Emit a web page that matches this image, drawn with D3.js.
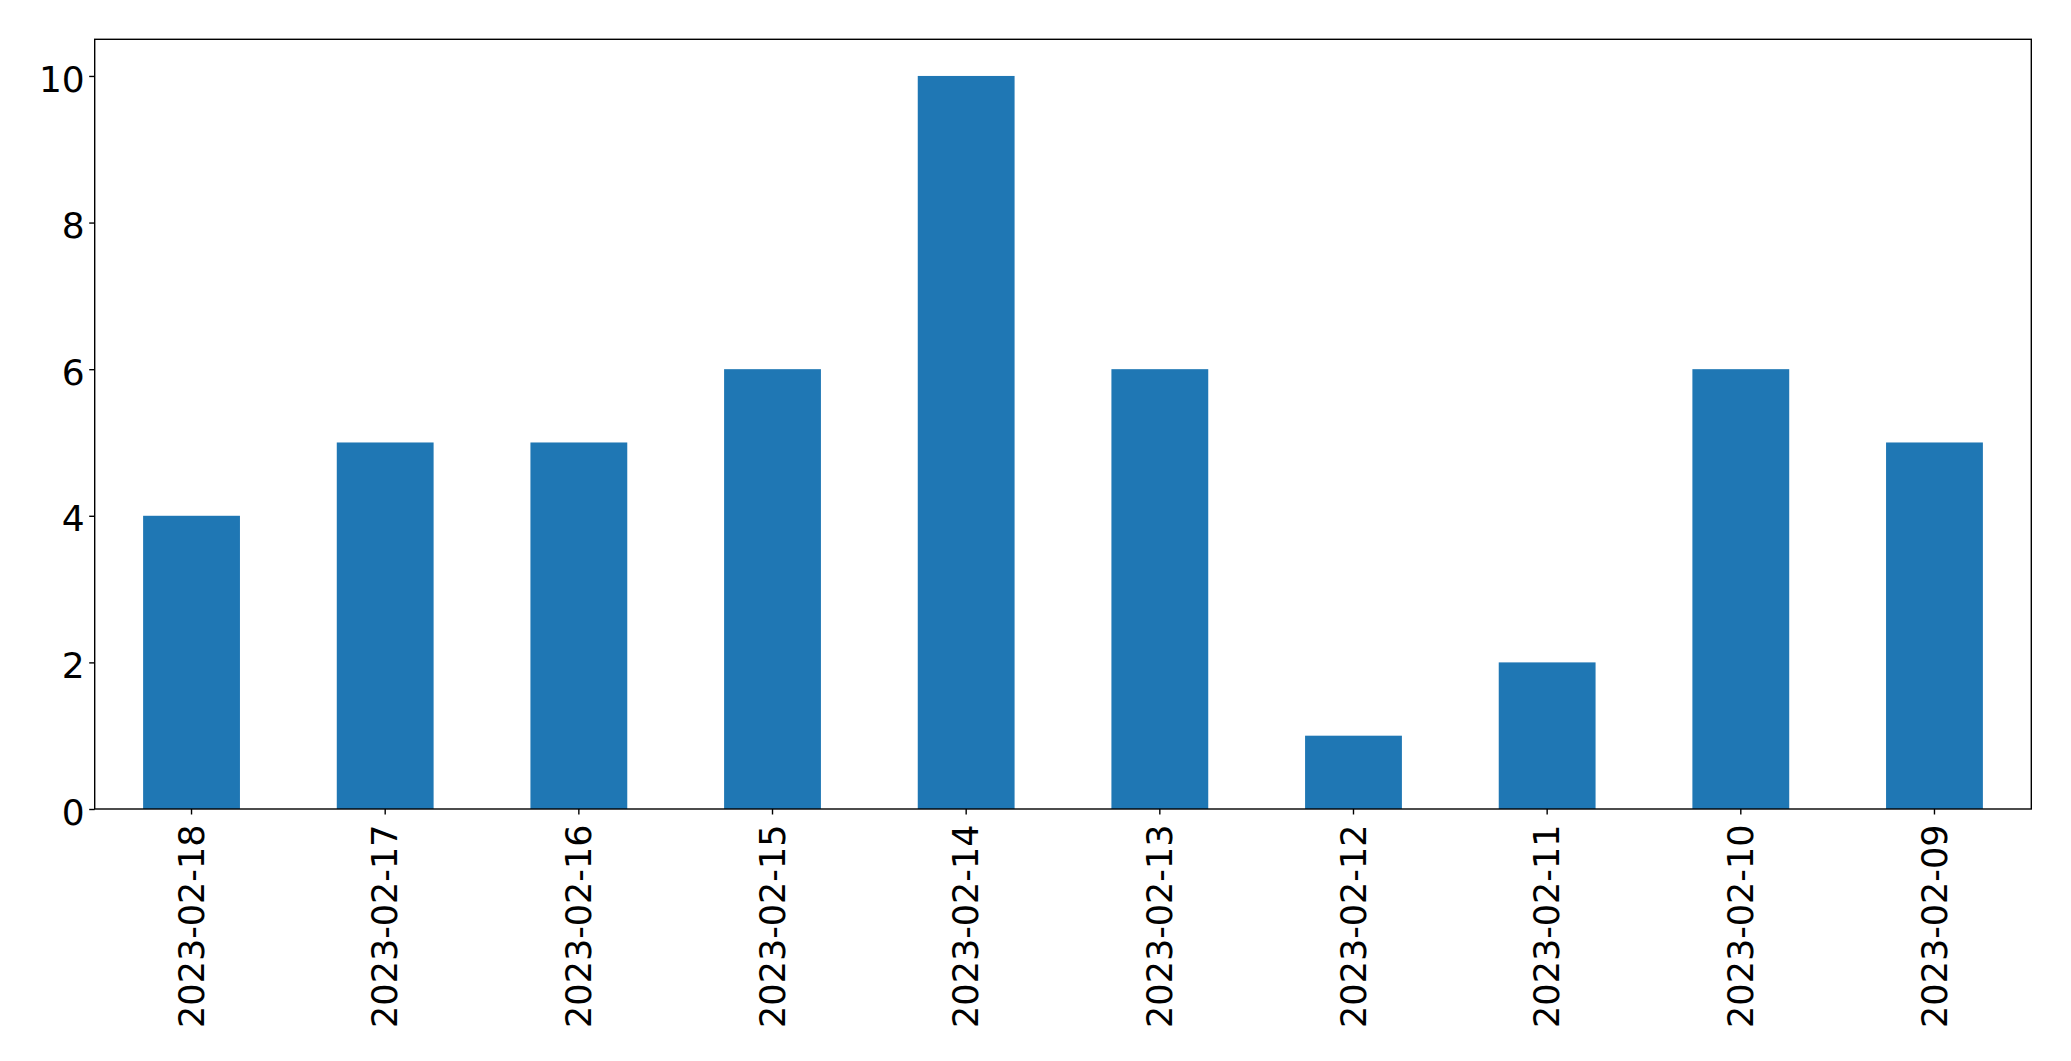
<!DOCTYPE html>
<html><head><meta charset="utf-8">
<script src="https://cdn.jsdelivr.net/npm/d3@7"></script>
<style>html,body{margin:0;padding:0;background:#fff;}svg{display:block;}</style>
</head><body>
<svg id="chart" width="2071" height="1061"></svg>
<script>
const categories = ["2023-02-18","2023-02-17","2023-02-16","2023-02-15","2023-02-14","2023-02-13","2023-02-12","2023-02-11","2023-02-10","2023-02-09"];
const values = [4,5,5,6,10,6,1,2,6,5];
const yTicks = [0,2,4,6,8,10];

const W = 2071, H = 1061;
const m = {left: 94.7, right: 2031.3, top: 39.3, bottom: 809};
const svg = d3.select("#chart");
const font = "'DejaVu Sans', sans-serif";

const x = d3.scaleBand().domain(categories).range([m.left, m.right]).paddingInner(0.5).paddingOuter(0.25);
const y = d3.scaleLinear().domain([0, 10.5]).range([m.bottom, m.top]);

svg.append("g").selectAll("rect").data(values).join("rect")
  .attr("x", (d,i) => x(categories[i]))
  .attr("width", x.bandwidth())
  .attr("y", d => y(d))
  .attr("height", d => y(0) - y(d))
  .attr("fill", "#1f77b4");

const yAxis = svg.append("g").attr("transform", `translate(${m.left},0)`)
  .call(d3.axisLeft(y).tickValues(yTicks).tickFormat(d3.format("d")).tickSize(5.5).tickPadding(4.5));
const xAxis = svg.append("g").attr("transform", `translate(0,${m.bottom})`)
  .call(d3.axisBottom(x).tickSize(5.5).tickPadding(8));

[yAxis, xAxis].forEach(g => {
  g.select(".domain").remove();
  g.selectAll(".tick line").attr("stroke", "#000").attr("stroke-width", 1.4);
  g.selectAll("text").attr("font-family", font).attr("fill", "#000");
});
yAxis.selectAll(".tick text").attr("font-size", 36).attr("dy", "0.42em");
xAxis.selectAll(".tick text")
  .attr("font-size", 35)
  .attr("text-anchor", "end")
  .attr("dy", "0.35em")
  .attr("transform", "translate(0,15.5) rotate(-90)")
  .attr("x", 0).attr("y", 0);

svg.append("rect").attr("x", m.left).attr("y", m.top)
  .attr("width", m.right - m.left).attr("height", m.bottom - m.top)
  .attr("fill", "none").attr("stroke", "#000").attr("stroke-width", 1.4);
</script>
</body></html>
